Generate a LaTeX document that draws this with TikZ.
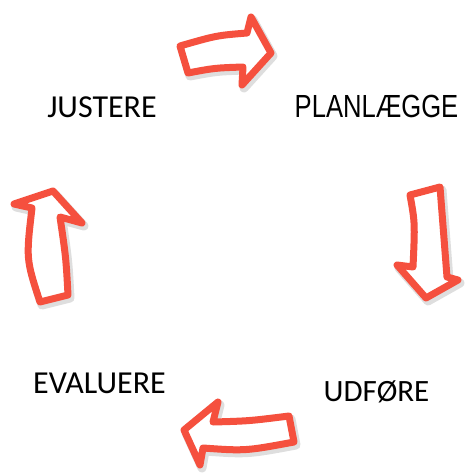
\documentclass[tikz,border=0pt]{standalone}
\usepackage{fontspec}
\setmainfont{Carlito}
\newfontfamily\narrowfont[FakeStretch=0.8]{Liberation Sans}
\definecolor{arrowred}{RGB}{245,80,62}
\tikzset{
  cyclearrow/.style={draw=arrowred, fill=white, line width=7pt, line join=round},
  arrowshadow/.style={draw=black, opacity=0.13, line width=9pt, line join=round, shift={(2pt,-3pt)}},
  label/.style={anchor=base, inner sep=0pt, font=\fontsize{32}{36}\selectfont},
}
\begin{document}
\begin{tikzpicture}[x=1pt, y=-1pt]
\useasboundingbox[fill=white] (0,0) rectangle (464,473);
% top arrow (right)
\def\arrowA{(180,46) .. controls (216.5,35.5) .. (247,33) -- (251,17) -- (271,53) -- (242,85) -- (243,67) .. controls (214.5,68) .. (188,73) -- cycle}
% right arrow (down)
\def\arrowB{(410,195) -- (440,187) .. controls (444,232) .. (447,277) -- (458,280) -- (426,298) -- (397,265) -- (413,267) .. controls (415,223) .. (410,195) -- cycle}
% bottom arrow (left)
\def\arrowC{(289,416) -- (294,442) .. controls (245.5,451) .. (203,448) -- (200,465) -- (184,430) -- (218,402) -- (213,422) .. controls (249,421) .. (289,416) -- cycle}
% left arrow (up)
\def\arrowD{(14,204) -- (53,191) -- (82,223) -- (60,217) .. controls (66,258) .. (68,295) -- (40,302) .. controls (26,259) .. (32,208) -- cycle}
\foreach \p in {\arrowA,\arrowB,\arrowC,\arrowD}{
  \draw[arrowshadow] \p;
}
\foreach \p in {\arrowA,\arrowB,\arrowC,\arrowD}{
  \draw[cyclearrow] \p;
}
\node[label] (justere) at (102,118) {JUSTERE};
\node[label, font=\narrowfont\fontsize{32}{36}\selectfont] (planlaegge) at (376.5,118) {PLANLÆGGE};
\node[label] (evaluere) at (99.5,393) {EVALUERE};
\node[label, font=\fontsize{31}{36}\selectfont] (udfoere) at (376.5,401) {UDFØRE};
\end{tikzpicture}
\end{document}
